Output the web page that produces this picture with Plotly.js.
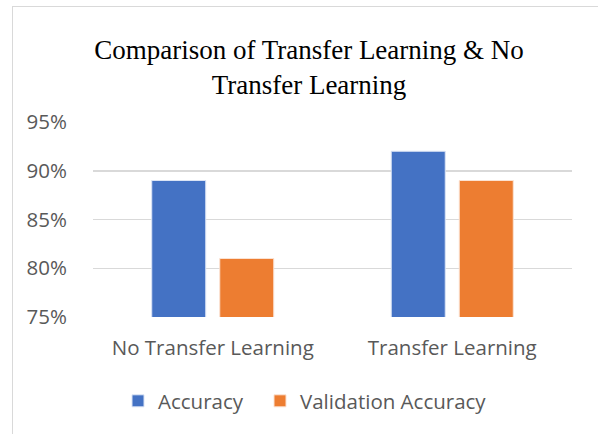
<!DOCTYPE html>
<html><head><meta charset="utf-8">
<script src="https://cdn.plot.ly/plotly-3.0.1.min.js"></script>
<style>
html,body{margin:0;padding:0;background:#fff;}
#wrap{position:relative;width:598px;height:434px;overflow:hidden;}
#chart{position:absolute;left:0;top:0;width:598px;height:434px;}
#frame{position:absolute;left:12px;top:6px;width:600px;height:440px;border:1.5px solid #d9d9d9;pointer-events:none;box-sizing:border-box;}
</style></head>
<body><div id="wrap"><div id="chart"></div><div id="frame"></div></div>
<script>
const categories = ["No Transfer Learning", "Transfer Learning"];
const accuracy = [0.89, 0.92];
const validationAccuracy = [0.81, 0.89];
const yTickVals = [0.75, 0.80, 0.85, 0.90, 0.95];
const yTickText = ["75%", "80%", "85%", "90%", "95%"];

const font = "'Open Sans', sans-serif";
const traces = [
  {type:'bar', name:'Accuracy', x:categories, y:accuracy, legend:'legend',
   marker:{color:'#4472C4', line:{color:'#dbe4f5', width:1}}},
  {type:'bar', name:'Validation Accuracy', x:categories, y:validationAccuracy, legend:'legend2',
   marker:{color:'#ED7D31', line:{color:'#fbe2d2', width:1}}}
];
const legendBase = {orientation:'h', xref:'container', yref:'container', xanchor:'left',
          y:1-401/434, yanchor:'middle', font:{family:font, size:20.5, color:'#595959'},
          itemwidth:30, bgcolor:'rgba(0,0,0,0)'};
const layout = {
  width:598, height:434,
  margin:{l:93, r:26, t:122, b:117},
  paper_bgcolor:'#fff', plot_bgcolor:'#fff',
  barmode:'group', bargap:0.432, bargroupgap:0.206,
  title:{text:'Comparison of Transfer Learning &amp; No<br>Transfer Learning',
         font:{family:"'Liberation Serif', 'Times New Roman', serif", size:27, color:'#000'},
         x:309/598, xanchor:'center', xref:'container', y:1-59/434, yanchor:'top', yref:'container'},
  xaxis:{showgrid:false, showline:false, zeroline:false,
         ticks:'outside', ticklen:12, tickcolor:'rgba(0,0,0,0)',
         tickfont:{family:font, size:20.5, color:'#595959'}},
  yaxis:{range:[0.75,0.95], tickvals:yTickVals, ticktext:yTickText,
         showgrid:true, gridcolor:'#d9d9d9', gridwidth:1.5, zeroline:false, showline:false,
         ticks:'outside', ticklen:21, tickcolor:'rgba(0,0,0,0)',
         tickfont:{family:font, size:20.5, color:'#595959'}},
  showlegend:true,
  legend:Object.assign({}, legendBase, {x:118/598}),
  legend2:Object.assign({}, legendBase, {x:260/598})
};
Plotly.newPlot('chart', traces, layout, {displayModeBar:false, staticPlot:true});
</script></body></html>
